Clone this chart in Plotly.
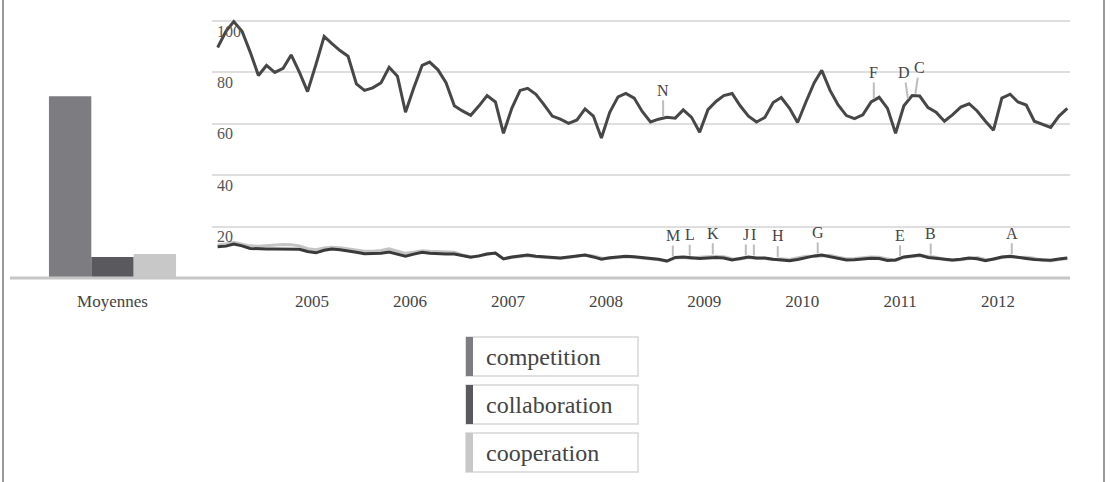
import plotly.graph_objects as go
import pandas as pd
import numpy as np

W, H = 1111, 482

# ---------------- data ----------------
months = pd.date_range("2004-01-01", "2012-09-01", freq="MS") + pd.Timedelta(days=14)

competition = [
    89.7, 96.0, 99.8, 96.0, 88.0, 78.8, 82.7, 80.0, 81.6, 86.8, 80.0, 72.5,
    83.0, 94.0, 91.3, 88.5, 86.3, 75.5, 73.0, 74.0, 76.0, 82.0, 78.5, 64.5,
    74.0, 82.7, 84.0, 81.0, 76.0, 67.0, 65.0, 63.3, 67.0, 71.0, 68.5, 56.3,
    66.0, 73.0, 73.8, 71.5, 67.5, 63.0, 61.8, 60.2, 61.5, 65.8, 63.0, 54.5,
    64.5, 70.5, 71.8, 70.0, 64.8, 60.7, 61.8, 62.5, 62.2, 65.4, 62.5, 56.7,
    65.5, 68.8, 71.0, 71.8, 67.0, 63.0, 60.7, 62.5, 68.3, 70.2, 66.0, 60.5,
    68.5, 76.0, 80.8, 73.0, 67.3, 63.2, 62.0, 63.5, 68.5, 70.3, 66.0, 56.3,
    67.0, 71.0, 70.8, 66.3, 64.5, 61.0, 63.5, 66.5, 67.8, 65.0, 61.0, 57.5,
    70.0, 71.5, 68.5, 67.3, 61.0, 59.8, 58.6, 63.0, 66.0,
]

collaboration = [
    12.2, 12.4, 13.2, 12.5, 11.5, 11.3, 11.3, 11.3, 11.3, 11.3, 11.2, 10.3,
    9.8, 10.8, 11.3, 11.0, 10.6, 10.0, 9.4, 9.4, 9.6, 10.1, 9.3, 8.5,
    9.3, 10.0, 9.6, 9.3, 9.3, 9.3, 8.6, 8.1, 8.6, 9.3, 9.7, 7.4,
    8.2, 8.5, 8.9, 8.5, 8.3, 7.9, 7.8, 8.2, 8.7, 8.9, 8.2, 7.3,
    7.9, 8.3, 8.5, 8.3, 8.0, 7.7, 7.3, 6.6, 8.0, 8.2, 7.8, 7.6,
    7.8, 8.0, 7.8, 7.0, 7.6, 8.2, 7.8, 7.8, 7.3, 7.0, 6.7, 7.2,
    8.0, 8.6, 8.9, 8.3, 7.6, 7.0, 7.1, 7.3, 7.7, 7.6, 6.8, 7.0,
    8.2, 8.6, 8.9, 8.0, 7.6, 7.4, 7.0, 7.3, 7.8, 7.5, 6.7, 7.4,
    8.2, 8.5, 8.2, 7.6, 7.2, 7.0, 6.9, 7.4, 7.8,
]

cooperation = [
    12.8, 13.2, 13.9, 13.3, 12.5, 12.4, 12.6, 12.8, 13.0, 12.9, 12.5, 11.4,
    11.0, 11.7, 12.0, 11.8, 11.4, 10.9, 10.4, 10.4, 10.7, 11.4, 10.6, 9.6,
    10.0, 10.6, 10.4, 10.3, 10.3, 10.0, 9.0, 8.3, 8.6, 9.3, 9.6, 7.6,
    8.0, 8.3, 8.7, 8.3, 8.1, 7.7, 7.6, 8.0, 8.5, 8.9, 8.6, 7.8,
    7.7, 8.1, 8.3, 8.1, 7.8, 7.5, 7.1, 6.4, 7.8, 8.0, 7.6, 8.1,
    8.3, 8.5, 8.3, 7.5, 7.4, 8.0, 7.6, 7.6, 7.1, 7.5, 7.2, 7.7,
    8.5, 8.4, 8.7, 8.8, 8.1, 7.5, 7.6, 7.8, 8.2, 8.1, 7.3, 6.8,
    8.0, 8.4, 8.7, 8.5, 8.1, 7.2, 6.8, 7.1, 7.6, 8.0, 7.2, 7.2,
    8.0, 8.3, 8.0, 8.1, 7.7, 6.8, 6.7, 7.2, 7.6,
]

series_names = ["competition", "collaboration", "cooperation"]
averages = [70.7, 8.2, 9.3]
bar_category = ["Moyennes"]

year_ticks = ["2005-01-01", "2006-01-01", "2007-01-01", "2008-01-01",
              "2009-01-01", "2010-01-01", "2011-01-01", "2012-01-01"]
year_labels = ["2005", "2006", "2007", "2008", "2009", "2010", "2011", "2012"]
y_ticks = [20, 40, 60, 80, 100]
y_labels = ["20", "40", "60", "80", "100"]

event_letters = ["N", "F", "D", "C",
                 "M", "L", "K", "J", "I", "H", "G", "E", "B", "A"]
event_dates = ["2008-08-01", "2010-09-25", "2011-01-31", "2011-02-26",
               "2008-09-06", "2008-11-08", "2009-02-02", "2009-06-05", "2009-07-05",
               "2009-10-02", "2010-02-28", "2011-01-01", "2011-04-25", "2012-02-21"]
event_on_top = [True, True, True, True,
                False, False, False, False, False, False, False, False, False, False]
event_text_dx = [0, 0, -4, 4, 0, 0, 0, 0, 0, 0, 0, 0, 0, 0]

# ---------------- styles ----------------
bar_colors = ["#7d7d81", "#5a5a5e", "#c8c8c8"]
line_colors = ["#474747", "#3a3a3a", "#c4c4c4"]
FONT = "Liberation Serif"
TXT = "#444444"

Y_BOTTOM_PX, Y_TOP_PX = 278, 10
R = (Y_BOTTOM_PX - Y_TOP_PX) / 2.57
ydom = [1 - Y_BOTTOM_PX / H, 1 - Y_TOP_PX / H]

fig = go.Figure()

# bars (averages)
for name, val, col in zip(series_names, averages, bar_colors):
    fig.add_trace(go.Bar(x=bar_category, y=[val], name=name, marker=dict(color=col, line=dict(width=0)),
                         xaxis="x", yaxis="y", showlegend=False))

# lines
series_vals = {"competition": competition, "collaboration": collaboration, "cooperation": cooperation}
for name in ["cooperation", "collaboration", "competition"]:
    col = line_colors[series_names.index(name)]
    fig.add_trace(go.Scatter(x=months, y=series_vals[name], mode="lines", name=name,
                             line=dict(color=col, width=3), xaxis="x2", yaxis="y2", showlegend=False))

# event markers
mnum = months.values.astype("datetime64[D]").astype(float)
comp_arr = np.array(competition)
low_arr = np.maximum(np.array(collaboration), np.array(cooperation))
annotations = []
for letter, d, top, dx in zip(event_letters, event_dates, event_on_top, event_text_dx):
    dn = np.datetime64(d, "D").astype(float)
    yv = float(np.interp(dn, mnum, comp_arr if top else low_arr))
    annotations.append(dict(
        x=d, y=yv, xref="x2", yref="y2", text=letter, showarrow=True,
        arrowhead=0, arrowwidth=2, arrowcolor="#bdbdbd", ax=dx, ay=-28 if top else -23, standoff=2,
        font=dict(family=FONT, size=16, color=TXT)))

# legend boxes
legend_colors = bar_colors
shapes = []
box_tops = [337, 385, 433]
for name, col, top in zip(series_names, legend_colors, box_tops):
    bot = top + 39
    shapes.append(dict(type="rect", xref="paper", yref="paper",
                       x0=466 / W, x1=638 / W, y0=1 - bot / H, y1=1 - top / H,
                       line=dict(color="#d6d6d6", width=1.5), fillcolor="white", layer="above"))
    shapes.append(dict(type="rect", xref="paper", yref="paper",
                       x0=466 / W, x1=473 / W, y0=1 - bot / H, y1=1 - top / H,
                       line=dict(width=0), fillcolor=col, layer="above"))
    annotations.append(dict(x=484 / W, y=1 - (top + 19.5) / H, xref="paper", yref="paper",
                            text=name, showarrow=False, xanchor="left", yanchor="middle",
                            font=dict(family=FONT, size=24, color=TXT)))

# baseline and frame
shapes.append(dict(type="line", xref="paper", yref="paper", x0=10 / W, x1=1070 / W,
                   y0=1 - Y_BOTTOM_PX / H, y1=1 - Y_BOTTOM_PX / H,
                   line=dict(color="#c6c6c6", width=3), layer="above"))
shapes.append(dict(type="line", xref="paper", yref="paper", x0=3 / W, x1=3 / W, y0=0, y1=1,
                   line=dict(color="#9a9a9a", width=2)))
shapes.append(dict(type="line", xref="paper", yref="paper", x0=1104 / W, x1=1104 / W, y0=0, y1=1,
                   line=dict(color="#9a9a9a", width=2)))

fig.update_layout(
    width=W, height=H,
    margin=dict(l=0, r=0, t=0, b=0),
    paper_bgcolor="white", plot_bgcolor="white",
    barmode="group", bargap=0.38, bargroupgap=0.0,
    showlegend=False,
    font=dict(family=FONT, color=TXT),
    xaxis=dict(domain=[10 / W, 215 / W], anchor="y", showgrid=False, zeroline=False, showline=False,
               ticks="outside", ticklen=8, tickcolor="rgba(0,0,0,0)",
               tickfont=dict(family=FONT, size=17, color=TXT), automargin=False),
    yaxis=dict(domain=ydom, range=[0, R], visible=False, anchor="x"),
    xaxis2=dict(domain=[212 / W, 1070 / W], anchor="y2", type="date",
                range=["2003-12-25", "2012-09-25"],
                tickvals=year_ticks, ticktext=year_labels, showgrid=False, zeroline=False,
                showline=False, ticks="outside", ticklen=8, tickcolor="rgba(0,0,0,0)",
                tickfont=dict(family=FONT, size=17, color=TXT), automargin=False),
    yaxis2=dict(domain=ydom, range=[0, R], anchor="x2", tickvals=y_ticks, ticktext=y_labels,
                showgrid=True, gridcolor="#dedede", gridwidth=2, zeroline=False, showline=False,
                ticklabelposition="inside", ticklabelshift=10, ticklabelstandoff=2,
                tickfont=dict(family=FONT, size=16, color="#555555"), automargin=False),
    shapes=shapes,
    annotations=annotations,
)

fig.write_html("out.html")
